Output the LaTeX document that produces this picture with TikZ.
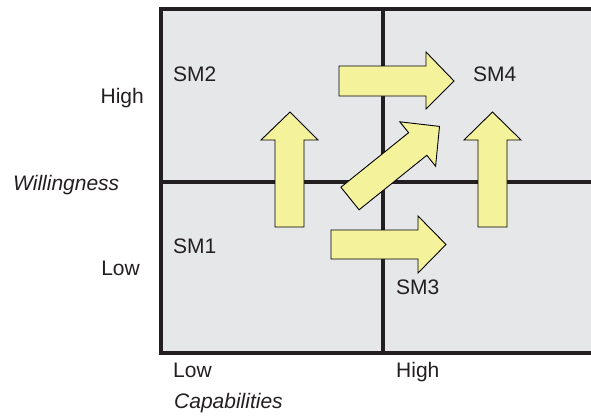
\documentclass[tikz,border=0pt]{standalone}
\usepackage{fontspec}
\setmainfont{Liberation Sans}
\definecolor{ink}{HTML}{231F20}
\definecolor{cellgray}{HTML}{E6E7E9}
\definecolor{arrowyellow}{HTML}{F5F29C}
\tikzset{
  gridline/.style={draw=ink, line width=3.5pt},
  bigarrow/.style={draw=black, fill=arrowyellow, line width=0.9pt, line join=miter},
  lbl/.style={inner sep=0pt, text=ink, font=\fontsize{21}{25}\selectfont},
  ilbl/.style={lbl, font=\fontsize{21}{25}\selectfont\itshape}
}
\begin{document}
\begin{tikzpicture}[x=1pt,y=-1pt]
\useasboundingbox (0,0) rectangle (591,415);
% cells
\fill[cellgray] (161,9) rectangle (591,353);
% grid lines
\draw[gridline] (161,9) -- (591,9);
\draw[gridline] (161,182) -- (591,182);
\draw[gridline] (159,353) -- (591,353);
\draw[gridline] (161,7.25) -- (161,354.75);
\draw[gridline] (383,9) -- (383,353);
% arrows
\draw[bigarrow] (275,227) -- (275,140) -- (261,140) -- (290,112) -- (318,140) -- (304,140) -- (304,227) -- cycle;
\draw[bigarrow] (478,227) -- (478,140) -- (464,140) -- (492.5,112) -- (521,140) -- (507,140) -- (507,227) -- cycle;
\draw[bigarrow] (339,66) -- (426,66) -- (426,52) -- (454,81) -- (426,109) -- (426,96) -- (339,96) -- cycle;
\draw[bigarrow] (331,230) -- (418,230) -- (418,216) -- (446,244.5) -- (418,273) -- (418,259) -- (331,259) -- cycle;
\draw[bigarrow] (340.9,187.2) -- (408.6,132.7) -- (399.8,121.8) -- (439.5,126.4) -- (435.6,166.2) -- (426.8,155.3) -- (359.1,209.8) -- cycle;
% labels
\node[lbl, anchor=base west] (sm2) at (173,81) {SM2};
\node[lbl, anchor=base west] (sm4) at (473,81) {SM4};
\node[lbl, anchor=base west] (sm1) at (173,253) {SM1};
\node[lbl, anchor=base west] (sm3) at (396,294) {SM3};
\node[lbl, anchor=base west] (xlow) at (173,377) {Low};
\node[lbl, anchor=base west] (xhigh) at (396,377) {High};
\node[ilbl, anchor=base west] (xtitle) at (174,408) {Capabilities};
\node[lbl, anchor=base east] (yhigh) at (144,103) {High};
\node[ilbl, anchor=base west] (ytitle) at (13,190) {Willingness};
\node[lbl, anchor=base east] (ylow) at (140,275) {Low};
\end{tikzpicture}
\end{document}
